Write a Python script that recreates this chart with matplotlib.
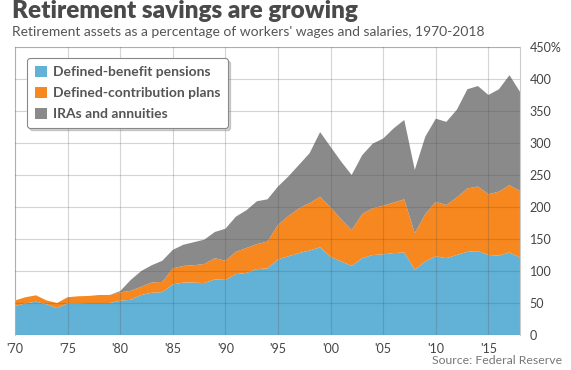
import numpy as np
import matplotlib
matplotlib.use("Agg")
import matplotlib.pyplot as plt

# retirement assets as % of wages and salaries
years = list(range(1970, 2019))
defined_benefit = [45, 49.5, 52, 48, 42, 49.5, 49.5, 50, 50, 50,
                   53.6, 55, 62.5, 66, 67, 79, 82, 82, 81, 87,
                   86, 95, 97, 103, 104, 118, 123, 128, 132, 137,
                   122, 115, 108, 120, 125, 126, 128, 129, 102, 115,
                   123, 120, 125, 130, 131, 125, 124, 129, 121]
defined_contribution = [9, 9.5, 10, 6, 8, 9.5, 11, 11, 12.5, 12.5,
                        13, 14, 13, 16, 16, 25, 26, 27, 30, 33,
                        30, 35, 39, 39, 42, 54, 63, 70, 74, 79,
                        77, 66, 56, 69, 73, 76, 79, 83, 57, 74,
                        85, 83, 90, 99, 101, 95, 100, 105, 104]
iras_annuities = [0, 0, 0, 0, 0, 0, 0, 0, 0, 0,
                  2, 17, 24.5, 27, 33, 29, 33, 36, 38, 41,
                  50, 55, 59, 67, 66, 60, 62, 68, 78, 101,
                  95, 90, 86, 92, 101, 105, 116, 124, 99, 121,
                  130, 130, 137, 155, 157, 155, 160, 172, 155]

series_names = ["Defined-benefit pensions", "Defined-contribution plans", "IRAs and annuities"]
x_ticks = [1970, 1975, 1980, 1985, 1990, 1995, 2000, 2005, 2010, 2015]
x_labels = ["'70", "'75", "'80", "'85", "'90", "'95", "'00", "'05", "'10", "'15"]
y_ticks = [0, 50, 100, 150, 200, 250, 300, 350, 400, 450]
y_labels = ["0", "50", "100", "150", "200", "250", "300", "350", "400", "450%"]

colors = ["#62b1d6", "#f7871f", "#8a8a8a"]
plt.rcParams["font.family"] = ["Lato", "DejaVu Sans"]

fig = plt.figure(figsize=(5.71, 3.70), dpi=100)
ax = fig.add_axes([15 / 571, 35 / 370, 505 / 571, 288 / 370])

ax.stackplot(years, defined_benefit, defined_contribution, iras_annuities,
             colors=colors, labels=series_names, linewidth=0, zorder=1)

ax.set_xlim(1970, 2018)
ax.set_ylim(0, 450)
ax.set_xticks(x_ticks)
ax.set_xticklabels(x_labels)
ax.set_yticks(y_ticks)
ax.set_yticklabels(y_labels)
ax.yaxis.tick_right()
ax.tick_params(axis="both", length=0, labelsize=9, colors="#444444")
ax.tick_params(axis="y", pad=7)
ax.tick_params(axis="x", pad=6)

ax.grid(True, color="#555555", alpha=0.25, linewidth=0.8, zorder=2)
ax.set_axisbelow(False)
for side in ["left", "top", "right"]:
    ax.spines[side].set_color("#cccccc")
    ax.spines[side].set_linewidth(0.8)
ax.spines["bottom"].set_visible(False)

leg = ax.legend(loc="upper left", bbox_to_anchor=(0.01, 0.985), frameon=True,
                fancybox=True, shadow={"color": "0.5", "alpha": 0.35},
                handlelength=0.9, handleheight=0.9, handletextpad=0.4,
                labelspacing=0.6, borderpad=0.55, fontsize=10)
leg.get_frame().set_edgecolor("#888888")
leg.get_frame().set_linewidth(0.8)
for t in leg.get_texts():
    t.set_color("#555555")
    t.set_fontweight("bold")

fig.text(12 / 571, 1 - 0 / 370, "Retirement savings are growing", ha="left", va="top",
         fontsize=17.5, fontweight="heavy", color="#4a4a4a")
fig.text(12 / 571, 1 - 26 / 370,
         "Retirement assets as a percentage of workers' wages and salaries, 1970-2018",
         ha="left", va="top", fontsize=10, color="#555555")
fig.text(562 / 571, 1 - 361 / 370, "Source: Federal Reserve", ha="right", va="center",
         fontsize=8.8, color="#777777")

fig.savefig("out.png", dpi=100)
